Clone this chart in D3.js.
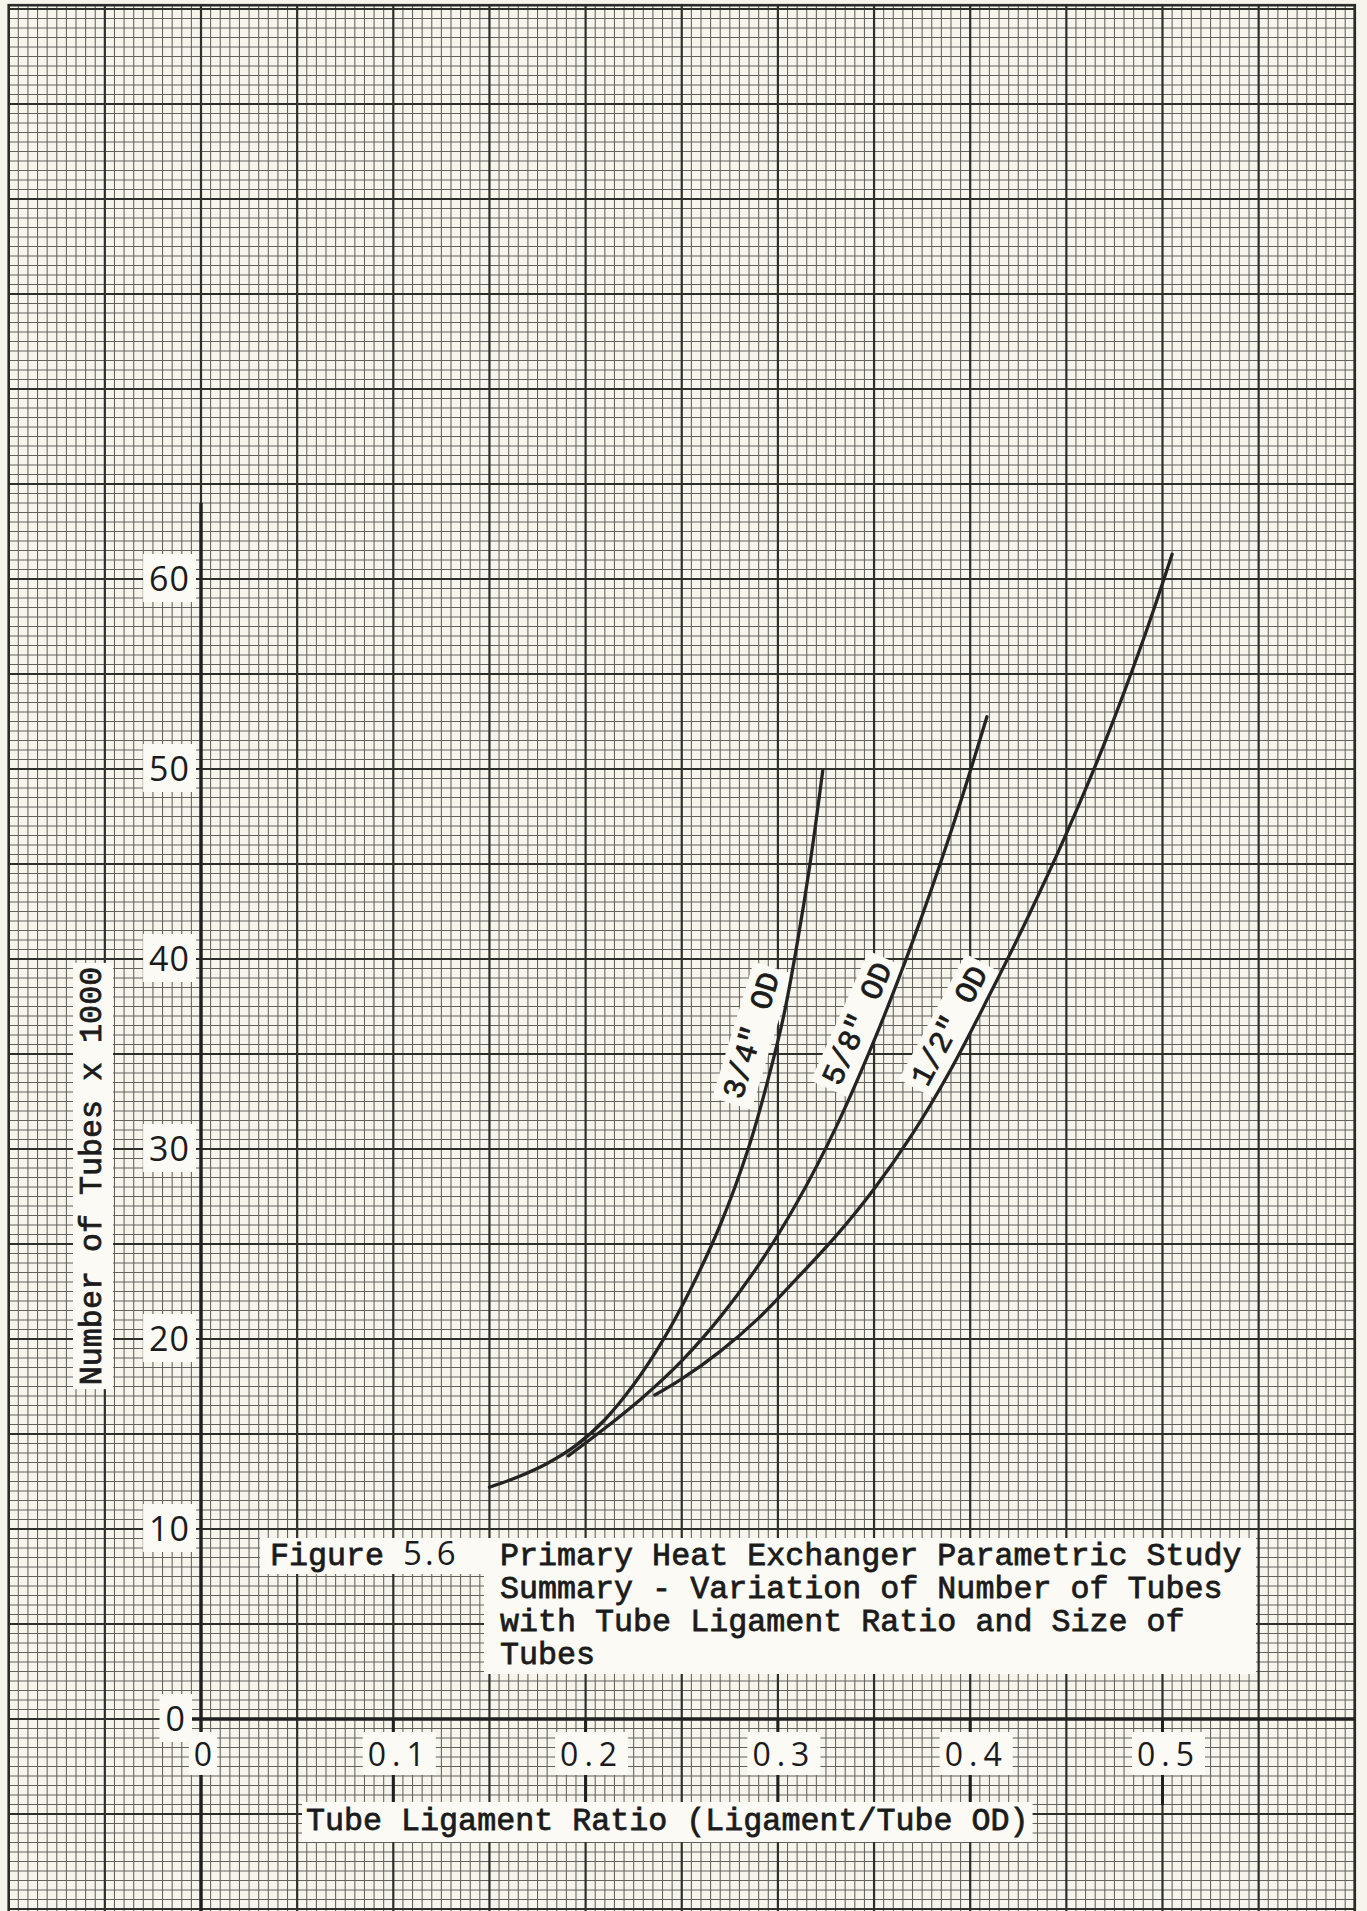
<!DOCTYPE html>
<html>
<head>
<meta charset="utf-8">
<script src="https://cdn.jsdelivr.net/npm/d3@7"></script>
<style>
  html, body { margin: 0; padding: 0; background: #f7f4ec; }
  svg { display: block; }
  .type { font-family: "Liberation Mono", "Courier New", monospace; fill: #1b1b1b; stroke: #1b1b1b; stroke-width: 0.8px; }
  .hand { font-family: "Open Sans", "Noto Sans", sans-serif; font-weight: 400; fill: #1b1b1b; }
</style>
</head>
<body>
<script>
// Tick values and their printed labels
const xTicks = [0, 0.1, 0.2, 0.3, 0.4, 0.5];
const xTickLabels = ["0", "0.1", "0.2", "0.3", "0.4", "0.5"];
const yTicks = [0, 10, 20, 30, 40, 50, 60];
const yTickLabels = ["0", "10", "20", "30", "40", "50", "60"];

// Curve names
const seriesNames = ['3/4" OD', '5/8" OD', '1/2" OD'];

// 3/4" OD tubes: ligament ratio vs number of tubes (thousands)
const ratio34 = [0.150, 0.165, 0.180, 0.195, 0.210, 0.225, 0.240, 0.255, 0.270, 0.285, 0.295, 0.303, 0.310, 0.3167, 0.3233];
const tubes34 = [12.2, 12.75, 13.45, 14.4, 15.75, 17.6, 19.9, 22.7, 26.0, 30.15, 33.7, 37.0, 40.8, 45.0, 49.9];

// 5/8" OD tubes
const ratio58 = [0.191, 0.210, 0.230, 0.250, 0.270, 0.290, 0.310, 0.330, 0.350, 0.370, 0.390, 0.4087];
const tubes58 = [13.85, 15.3, 16.95, 18.85, 21.15, 23.9, 27.2, 31.1, 35.7, 40.9, 46.7, 52.75];

// 1/2" OD tubes
const ratio12 = [0.236, 0.250, 0.270, 0.290, 0.310, 0.330, 0.350, 0.370, 0.390, 0.410, 0.430, 0.450, 0.470, 0.490, 0.505];
const tubes12 = [17.05, 17.9, 19.35, 21.1, 23.2, 25.4, 27.9, 30.8, 34.2, 38.1, 42.2, 46.6, 51.4, 56.8, 61.3];

const W = 1367, H = 1911;

const svg = d3.select("body").append("svg")
  .attr("width", W).attr("height", H)
  .attr("viewBox", `0 0 ${W} ${H}`);

// Paper
svg.append("rect").attr("width", W).attr("height", H).attr("fill", "#f7f4ec");

// Scales
const x = d3.scaleLinear().domain([0, 0.5]).range([201, 1162.5]);
const y = d3.scaleLinear().domain([0, 60]).range([1719, 579]);

// Extent of the printed graph paper, in data units
const gx0 = -0.1, gx1 = 0.6, gy0 = -10.5, gy1 = 90.2;

const grid = svg.append("g");
grid.append("clipPath").attr("id", "paper")
  .append("rect")
  .attr("x", x(gx0)).attr("y", y(gy1))
  .attr("width", x(gx1) - x(gx0)).attr("height", y(gy0) - y(gy1));
const gg = grid.append("g").attr("clip-path", "url(#paper)");

// Minor ruling every 0.005 (x) and 0.5 (y); heavy every 10 minor divisions
const vIdx = d3.range(Math.round(gx0 / 0.005), Math.round(gx1 / 0.005) + 1);
const hIdx = d3.range(Math.round(gy0 / 0.5), Math.round(gy1 / 0.5) + 1);

gg.selectAll("line.vmin").data(vIdx.filter(i => i % 10 !== 0)).join("line")
  .attr("x1", i => x(i * 0.005)).attr("x2", i => x(i * 0.005))
  .attr("y1", y(gy1)).attr("y2", y(gy0))
  .attr("stroke", "#62615c").attr("stroke-width", 1.05);
gg.selectAll("line.hmin").data(hIdx.filter(i => i % 10 !== 0)).join("line")
  .attr("y1", i => y(i * 0.5)).attr("y2", i => y(i * 0.5))
  .attr("x1", x(gx0)).attr("x2", x(gx1))
  .attr("stroke", "#62615c").attr("stroke-width", 1.05);
gg.selectAll("line.vmaj").data(vIdx.filter(i => i % 10 === 0)).join("line")
  .attr("x1", i => x(i * 0.005)).attr("x2", i => x(i * 0.005))
  .attr("y1", y(gy1)).attr("y2", y(gy0))
  .attr("stroke", "#2e2e2b").attr("stroke-width", 2.2);
gg.selectAll("line.hmaj").data(hIdx.filter(i => i % 10 === 0)).join("line")
  .attr("y1", i => y(i * 0.5)).attr("y2", i => y(i * 0.5))
  .attr("x1", x(gx0)).attr("x2", x(gx1))
  .attr("stroke", "#2e2e2b").attr("stroke-width", 2.2);

// Border of the ruled area
grid.append("rect")
  .attr("x", x(gx0)).attr("y", y(gy1))
  .attr("width", x(gx1) - x(gx0)).attr("height", y(gy0) - y(gy1))
  .attr("fill", "none").attr("stroke", "#2b2b29").attr("stroke-width", 2.6);

// Axes drawn in ink
const axes = svg.append("g").attr("stroke", "#1f1f1f").attr("stroke-linecap", "butt");
axes.append("line")
  .attr("x1", x(0)).attr("x2", x(0))
  .attr("y1", y(64)).attr("y2", H)
  .attr("stroke-width", 3.4);
axes.append("line")
  .attr("x1", x(-0.006)).attr("x2", x(gx1))
  .attr("y1", y(0)).attr("y2", y(0))
  .attr("stroke-width", 3.4);
// tick marks hanging below the x axis
axes.selectAll("line.xt").data(xTicks.slice(1)).join("line")
  .attr("x1", d => x(d)).attr("x2", d => x(d))
  .attr("y1", y(0)).attr("y2", y(0) + 86)
  .attr("stroke-width", 3);

// Helper: white paper slip behind a text element
function slip(parent, textSel, padX, padY) {
  const b = textSel.node().getBBox();
  parent.insert("rect", () => textSel.node())
    .attr("x", b.x - padX).attr("y", b.y - padY)
    .attr("width", b.width + 2 * padX).attr("height", b.height + 2 * padY)
    .attr("fill", "#fbfaf5");
}

// x tick labels
const xl = svg.append("g");
xTicks.forEach((t, i) => {
  const g = xl.append("g");
  const txt = g.append("text").attr("class", "hand")
    .attr("x", x(t) + (i === 0 ? 2 : 6)).attr("y", 1766)
    .attr("text-anchor", "middle")
    .attr("font-size", 32)
    .attr("letter-spacing", i === 0 ? 0 : 6)
    .text(xTickLabels[i]);
  slip(g, txt, 5, 0);
});

// y tick labels
const yl = svg.append("g");
yTicks.forEach((t, i) => {
  const g = yl.append("g");
  const txt = g.append("text").attr("class", "hand")
    .attr("x", t === 0 ? 186 : 190).attr("y", y(t) + 12)
    .attr("text-anchor", "end")
    .attr("font-size", 34)
    .attr("letter-spacing", 1)
    .text(yTickLabels[i]);
  slip(g, txt, 6, 1);
});

// Axis titles
const xt = svg.append("g");
const xtt = xt.append("text").attr("class", "type")
  .attr("x", 306).attr("y", 1830)
  .attr("font-size", 31.7)
  .text("Tube Ligament Ratio (Ligament/Tube OD)");
slip(xt, xtt, 4, 2);

const yt = svg.append("g").attr("transform", "translate(101,1176) rotate(-90)");
const ytt = yt.append("text").attr("class", "type")
  .attr("x", 0).attr("y", 0)
  .attr("text-anchor", "middle")
  .attr("font-size", 31.7)
  .text("Number of Tubes x 1000");
slip(yt, ytt, 4, 2);

// Figure caption on two pasted slips
const cap = svg.append("g");
cap.append("rect").attr("x", 260).attr("y", 1538).attr("width", 228).attr("height", 36).attr("fill", "#fbfaf5");
cap.append("rect").attr("x", 484).attr("y", 1538).attr("width", 772).attr("height", 136).attr("fill", "#fbfaf5");
const fig = cap.append("text").attr("class", "type").attr("x", 270).attr("y", 1565).attr("font-size", 31.7);
fig.append("tspan").text("Figure ");
fig.append("tspan").attr("class", "hand").attr("font-size", 33).attr("letter-spacing", 3).attr("stroke-width", 0).text("5.6");
const capLines = [
  "Primary Heat Exchanger Parametric Study",
  "Summary - Variation of Number of Tubes",
  "with Tube Ligament Ratio and Size of",
  "Tubes"
];
cap.selectAll("text.cl").data(capLines).join("text")
  .attr("class", "type cl")
  .attr("x", 500).attr("y", (d, i) => 1565 + i * 33)
  .attr("font-size", 31.7)
  .text(d => d);

// Curve labels, typed on slips set along each curve
const labelPos = [
  { cx: 750, cy: 1035, ang: -73 },
  { cx: 856, cy: 1023, ang: -66 },
  { cx: 948, cy: 1025, ang: -62 }
];
seriesNames.forEach((name, i) => {
  const p = labelPos[i];
  const g = svg.append("g").attr("transform", `translate(${p.cx},${p.cy}) rotate(${p.ang})`);
  const txt = g.append("text").attr("class", "type")
    .attr("text-anchor", "middle").attr("dy", "0.36em")
    .attr("font-size", 31)
    .text(name);
  slip(g, txt, 6, 3);
});

// Curves
const line = d3.line()
  .x(d => x(d[0])).y(d => y(d[1]))
  .curve(d3.curveCatmullRom.alpha(0.5));
const series = [
  d3.zip(ratio34, tubes34),
  d3.zip(ratio58, tubes58),
  d3.zip(ratio12, tubes12)
];
svg.append("g").selectAll("path").data(series).join("path")
  .attr("d", line)
  .attr("fill", "none")
  .attr("stroke", "#242424")
  .attr("stroke-width", 3.3)
  .attr("stroke-linecap", "round")
  .attr("stroke-linejoin", "round");
</script>
</body>
</html>
